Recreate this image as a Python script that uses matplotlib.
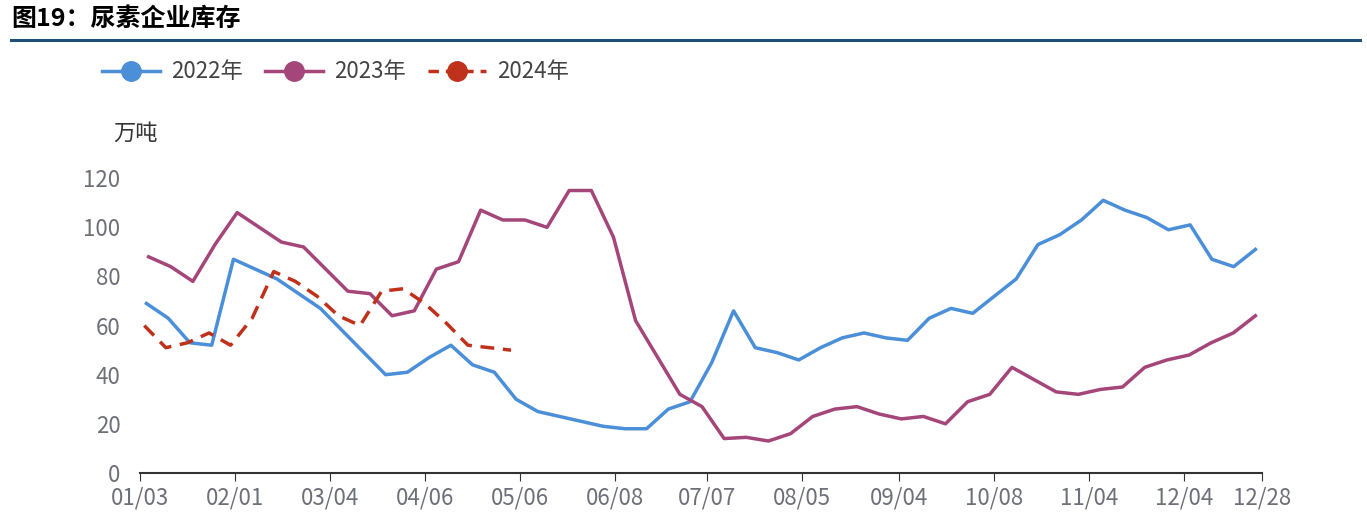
import matplotlib
matplotlib.use("Agg")
import matplotlib.pyplot as plt
from matplotlib.lines import Line2D
import numpy as np

plt.rcParams['font.family'] = ['Noto Sans CJK SC', 'DejaVu Sans']

s2022 = [69,63,53,52,87,83,79,73,67,58,49,40,41,47,52,44,41,30,25,23,21,19,18,18,26,29,45,66,51,49,46,51,55,57,55,54,63,67,65,72,79,93,97,103,111,107,104,99,101,87,84,91]
s2023 = [88,84,78,93,106,100,94,92,83,74,73,64,66,83,86,107,103,103,100,115,115,96,62,47,32,27,14,14.5,13,16,23,26,27,24,22,23,20,29,32,43,38,33,32,34,35,43,46,48,53,57,64]
s2024 = [60,51,53,57,52,63,82,78,72,64,60,74,75,69,61,52,51,50]
tick_labels = ["01/03","02/01","03/04","04/06","05/06","06/08","07/07","08/05","09/04","10/08","11/04","12/04","12/28"]
tick_pos = [-0.3,4.1,8.5,12.9,17.3,21.7,26.0,30.4,34.9,39.3,43.7,48.1,51.7]

fig = plt.figure(figsize=(13.67,5.32), dpi=100)
ax = fig.add_axes([0.1024,0.111,0.8207,0.554])

c1, c2, c3 = '#4a8fd8', '#a4467a', '#c0311c'
x22 = np.arange(len(s2022))*(51.4/51)
x23 = np.arange(len(s2023))*(51.3/50) + 0.1
x24 = np.arange(len(s2024))*1.0 - 0.1
ax.plot(x22, s2022, color=c1, lw=2.5)
ax.plot(x23, s2023, color=c2, lw=2.5)
ax.plot(x24, s2024, color=c3, lw=2.5, ls=(0,(4,2.5)))

ax.set_xlim(-0.3, 51.7)
ax.set_ylim(0,120)
ax.set_yticks([0,20,40,60,80,100,120])
ax.set_xticks(tick_pos)
ax.set_xticklabels(tick_labels)
ax.tick_params(axis='y', length=0, labelsize=16, colors='#6e7079', pad=14)
ax.tick_params(axis='x', length=6, color='#333333', labelsize=16, labelcolor='#6e7079')
for s in ['top','right','left']:
    ax.spines[s].set_visible(False)
ax.spines['bottom'].set_color('#333333')
ax.spines['bottom'].set_linewidth(1.5)

fig.text(0.008,0.965,"图19：尿素企业库存", fontsize=18, fontweight='bold', va='center')
fig.add_artist(Line2D([0.008,0.995],[0.925,0.925], color='#1f4e79', lw=2.2))
fig.text(0.083,0.75,"万吨", fontsize=16, color='#333333', va='center')

handles = [Line2D([],[],color=c,lw=2.5,ls=ls,marker='o',markersize=14) for c,ls in [(c1,'-'),(c2,'-'),(c3,(0,(3,2)))]]
fig.legend(handles, ["2022年","2023年","2024年"], loc='center left', bbox_to_anchor=(0.06,0.865),
           ncol=3, frameon=False, fontsize=16, handlelength=2.6, handletextpad=0.5, columnspacing=1.0, labelcolor='#444444')

fig.savefig("out.png", dpi=100)
